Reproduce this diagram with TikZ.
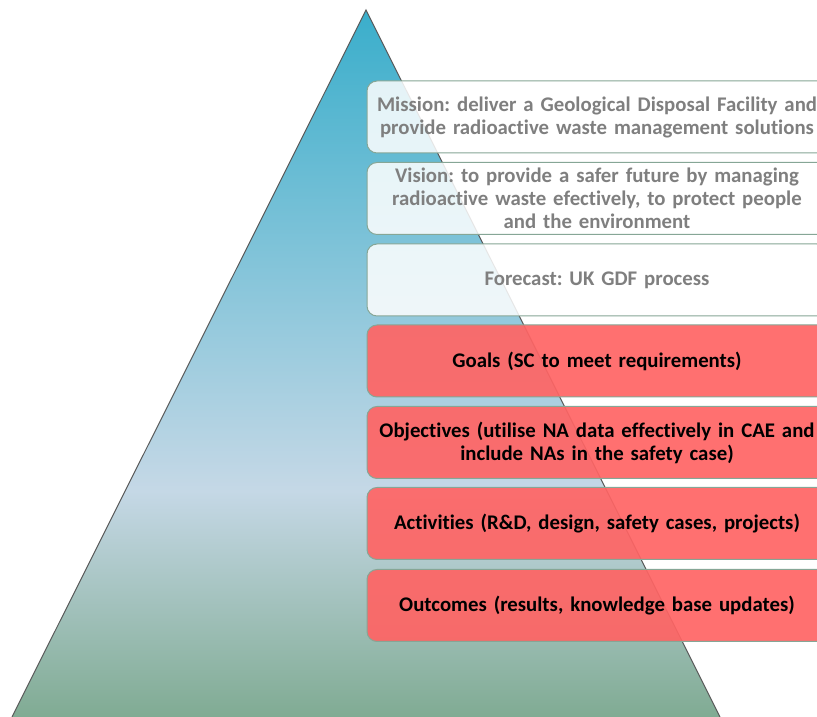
\documentclass[tikz,border=0pt]{standalone}
\usepackage{fontspec}
\setmainfont[Ligatures=NoCommon]{Carlito}
\usepackage{tikz}
\frenchspacing
\definecolor{apexblue}{HTML}{3AAECB}
\definecolor{midblue}{HTML}{C5D8E6}
\definecolor{basegreen}{HTML}{80AB93}
\definecolor{edgegreen}{HTML}{86A696}
\definecolor{goalred}{HTML}{FF6464}
\definecolor{palegray}{HTML}{7F7F7F}
\pgfdeclareverticalshading{pyramidfill}{100bp}{
  color(0bp)=(basegreen); color(25bp)=(basegreen); color(41bp)=(midblue);
  color(75bp)=(apexblue); color(100bp)=(apexblue)}
\tikzset{
  side/.style    = { draw=black!65, line width=1pt },
  tier/.style    = { draw=edgegreen, line width=1pt, rounded corners=10pt,
                     minimum width=460pt, minimum height=72pt,
                     text width=456pt, align=center, inner sep=0pt,
                     font=\bfseries\fontsize{20.8}{23}\selectfont },
  pale/.style    = { tier, fill=white, fill opacity=0.85, text opacity=1, text=palegray },
  redtier/.style = { tier, fill=goalred, fill opacity=0.92, text opacity=1, text=black }
}

\begin{document}
\begin{tikzpicture}[x=1pt,y=1pt]
  \clip (0,0) rectangle (817,717);
  % Draw the pyramid
  \coordinate (baseL) at (12,0);
  \coordinate (apex) at (366,707);
  \coordinate (baseR) at (720,0);
  \shade[shading=pyramidfill] (baseL) -- (apex) -- (baseR) -- cycle;
  \draw[side] (baseL) -- (apex) -- (baseR);
  % Draw all tiers
  \node[pale] (mission) at (597,600) {Mission: deliver a Geological Disposal Facility and\\ provide radioactive waste management solutions};
  \node[pale] (vision) at (597,518.5) {Vision: to provide a safer future by managing\\ radioactive waste efectively, to protect people\\ and the environment};
  \node[pale] (forecast) at (597,437) {Forecast: UK GDF process};
  \node[redtier] (goals) at (597,356) {Goals (SC to meet requirements)};
  \node[redtier] (objectives) at (597,274.5) {Objectives (utilise NA data effectively in CAE and\\ include NAs in the safety case)};
  \node[redtier] (activities) at (597,193.5) {Activities (R\&D, design, safety cases, projects)};
  \node[redtier] (outcomes) at (597,111.5) {Outcomes (results, knowledge base updates)};
\end{tikzpicture}
\end{document}
